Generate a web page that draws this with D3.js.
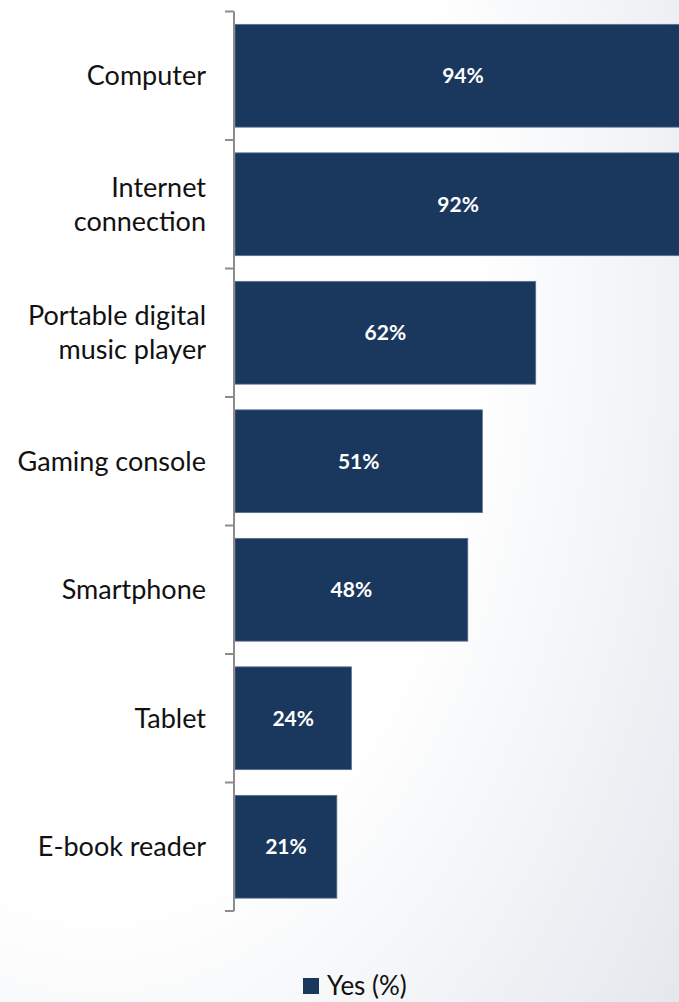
<!DOCTYPE html>
<html>
<head>
<meta charset="utf-8">
<script src="https://cdn.jsdelivr.net/npm/d3@7"></script>
<style>
  html, body { margin: 0; padding: 0; overflow: hidden; }
  svg { display: block; }
</style>
</head>
<body>
<div id="chart"></div>
<script>
// Device ownership, share of respondents answering "Yes"
const categories = [
  ["Computer"],
  ["Internet", "connection"],
  ["Portable digital", "music player"],
  ["Gaming console"],
  ["Smartphone"],
  ["Tablet"],
  ["E-book reader"]
];
const values = [94, 92, 62, 51, 48, 24, 21];
const seriesName = "Yes (%)";

const W = 679, H = 1002;
const barColor = "#1a375e";
const font = "Lato, 'Open Sans', sans-serif";

const svg = d3.select("#chart").append("svg")
  .attr("width", W).attr("height", H);

// soft backdrop: white on the left, fading to a cool grey toward the right
const defs = svg.append("defs");
const grad = defs.append("radialGradient")
  .attr("id", "bg").attr("gradientUnits", "userSpaceOnUse")
  .attr("cx", 100).attr("cy", 300).attr("r", 750)
  .attr("gradientTransform", "translate(100,300) scale(1,1.6) translate(-100,-300)");
grad.append("stop").attr("offset", "0%").attr("stop-color", "#ffffff");
grad.append("stop").attr("offset", "50%").attr("stop-color", "#ffffff");
grad.append("stop").attr("offset", "100%").attr("stop-color", "#e2e6ec");
svg.append("rect").attr("width", W).attr("height", H).attr("fill", "url(#bg)");

const keys = categories.map(c => c.join(" "));
const y = d3.scaleBand().domain(keys).range([11.5, 911]).paddingInner(0.2).paddingOuter(0.1);
const x = d3.scaleLinear().domain([0, 100]).range([235, 720]);

// bars
svg.append("g").selectAll("rect")
  .data(values)
  .join("rect")
  .attr("x", x(0))
  .attr("y", (d, i) => y(keys[i]))
  .attr("width", d => x(d) - x(0))
  .attr("height", y.bandwidth())
  .attr("fill", barColor)
  .attr("stroke", "#5c7294")
  .attr("stroke-width", 0.8);

// value labels, centred in each bar
svg.append("g").selectAll("text")
  .data(values)
  .join("text")
  .attr("x", d => (x(0) + x(d)) / 2)
  .attr("y", (d, i) => y(keys[i]) + y.bandwidth() / 2)
  .attr("dy", "0.36em")
  .attr("text-anchor", "middle")
  .attr("fill", "#ffffff")
  .attr("font-family", font)
  .attr("font-weight", "bold")
  .attr("font-size", 21)
  .text(d => d + "%");

// category axis with ticks at band boundaries
const step = y.step();
const bounds = d3.range(keys.length + 1).map(i => 11.5 + i * step);
const axis = svg.append("g");
axis.append("line")
  .attr("x1", 234).attr("x2", 234)
  .attr("y1", bounds[0]).attr("y2", bounds[bounds.length - 1])
  .attr("stroke", "#8c8c8c").attr("stroke-width", 2);
axis.selectAll("line.tick")
  .data(bounds)
  .join("line")
  .attr("class", "tick")
  .attr("x1", 225).attr("x2", 234)
  .attr("y1", d => d).attr("y2", d => d)
  .attr("stroke", "#8c8c8c").attr("stroke-width", 2);

// category labels, right-aligned, one or two lines
const lineH = 34;
const labels = svg.append("g")
  .attr("font-family", font)
  .attr("font-size", 27)
  .attr("fill", "#111111")
  .attr("text-anchor", "end");
categories.forEach((lines, i) => {
  const cy = y(keys[i]) + y.bandwidth() / 2;
  const t = labels.append("text").attr("x", 206);
  lines.forEach((ln, j) => {
    t.append("tspan")
      .attr("x", 206)
      .attr("y", cy + (j - (lines.length - 1) / 2) * lineH)
      .attr("dy", "0.35em")
      .text(ln);
  });
});

// legend
const legend = svg.append("g").attr("transform", "translate(303,978)");
legend.append("rect").attr("width", 16).attr("height", 16).attr("fill", barColor);
legend.append("text")
  .attr("x", 24).attr("y", 8).attr("dy", "0.36em")
  .attr("font-family", font).attr("font-size", 26).attr("fill", "#111111")
  .text(seriesName);
</script>
</body>
</html>
